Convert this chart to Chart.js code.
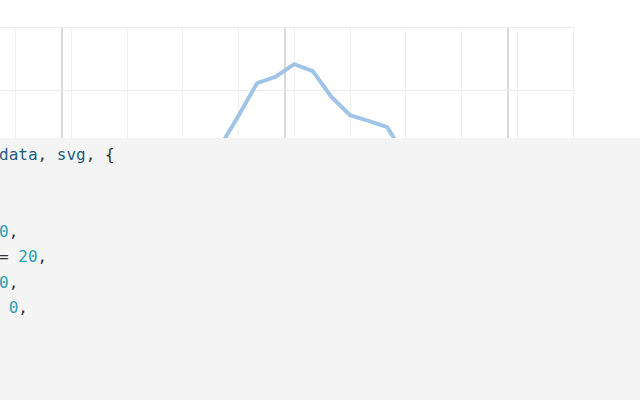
<!DOCTYPE html>
<html>
<head>
<meta charset="utf-8">
<script src="https://cdn.jsdelivr.net/npm/chart.js@4/dist/chart.umd.min.js"></script>
<style>
  html, body { margin: 0; padding: 0; background: #fff; }
  body { width: 640px; height: 400px; position: relative; overflow: hidden; }
  #chart-wrap { position: absolute; left: -100px; top: 23px; width: 677px; height: 260px; }
  #code {
    position: absolute; left: 0; top: 138px; width: 640px; height: 262px;
    background: #f4f4f4; overflow: hidden;
  }
  #code pre {
    position: absolute; left: -145.5px; top: 4px; margin: 0;
    font-family: "DejaVu Sans Mono", monospace; font-size: 16px; line-height: 25.5px;
    color: #333;
  }
  .kw { color: #8a3ffc; }
  .fn { color: #1f5c80; }
  .pm { color: #1f5c80; }
  .nm { color: #2a9fb0; }
</style>
</head>
<body>
<div id="chart-wrap"><canvas id="line-chart"></canvas></div>
<div id="code"><pre><span class="kw">function</span> <span class="fn">chart</span>(<span class="pm">data</span>, <span class="pm">svg</span>, {
  <span class="pm">width</span> = <span class="nm">640</span>,
  <span class="pm">height</span> = <span class="nm">400</span>,
  <span class="pm">marginTop</span> = <span class="nm">20</span>,
  <span class="pm">marginBottom</span> = <span class="nm">20</span>,
  <span class="pm">marginLeft</span> = <span class="nm">0</span>,
  <span class="pm">marginRight</span> = <span class="nm">0</span>,
} = {}) {</pre></div>
<script>
// monthly values, index 0..36 (only 17..27 are visible above the code block)
const months = [0, 1, 2, 3, 4, 5, 6, 7, 8, 9, 10, 11, 12, 13, 14, 15, 16, 17, 18,
                19, 20, 21, 22, 23, 24, 25, 26, 27, 28, 29, 30, 31, 32, 33, 34, 35, 36];
const values = [12, 10, 9, 8, 8, 9, 11, 13, 15, 17, 18, 17, 15, 14, 13, 14, 16, 21, 25.9,
                31.1, 32.1, 34.1, 33.0, 28.9, 26.0, 25.1, 24.1, 19.4, 17, 15, 13, 12, 11, 10, 10, 11, 12];
const yearBreaks = [8.5, 20.5, 32.5];

const ctx = document.getElementById('line-chart');

new Chart(ctx, {
    type: 'line',
    data: {
        datasets: [{
            data: months.map((m, i) => ({ x: m, y: values[i] })),
            borderColor: '#9fc4e7',
            borderWidth: 4,
            pointRadius: 0,
            tension: 0,
            fill: false
        }]
    },
    options: {
        responsive: true,
        maintainAspectRatio: false,
        animation: false,
        layout: { padding: 4 },
        plugins: {
            legend: { display: false },
            tooltip: { enabled: false }
        },
        scales: {
            x: {
                type: 'linear',
                min: 0,
                max: 36,
                ticks: { display: false, stepSize: 3 },
                grid: { color: '#f1f1f1', drawTicks: false },
                border: { display: false }
            },
            years: {
                type: 'linear',
                axis: 'x',
                position: 'bottom',
                min: 0,
                max: 36,
                afterBuildTicks: axis => {
                    axis.ticks = yearBreaks.map(v => ({ value: v }));
                },
                ticks: { display: false },
                grid: { color: '#d9d9d9', lineWidth: 2, drawTicks: false },
                border: { display: false }
            },
            y: {
                min: 0,
                max: 40,
                ticks: { display: false, stepSize: 10 },
                grid: { color: '#ececec', drawTicks: false },
                border: { display: false }
            }
        }
    }
});
</script>
</body>
</html>
